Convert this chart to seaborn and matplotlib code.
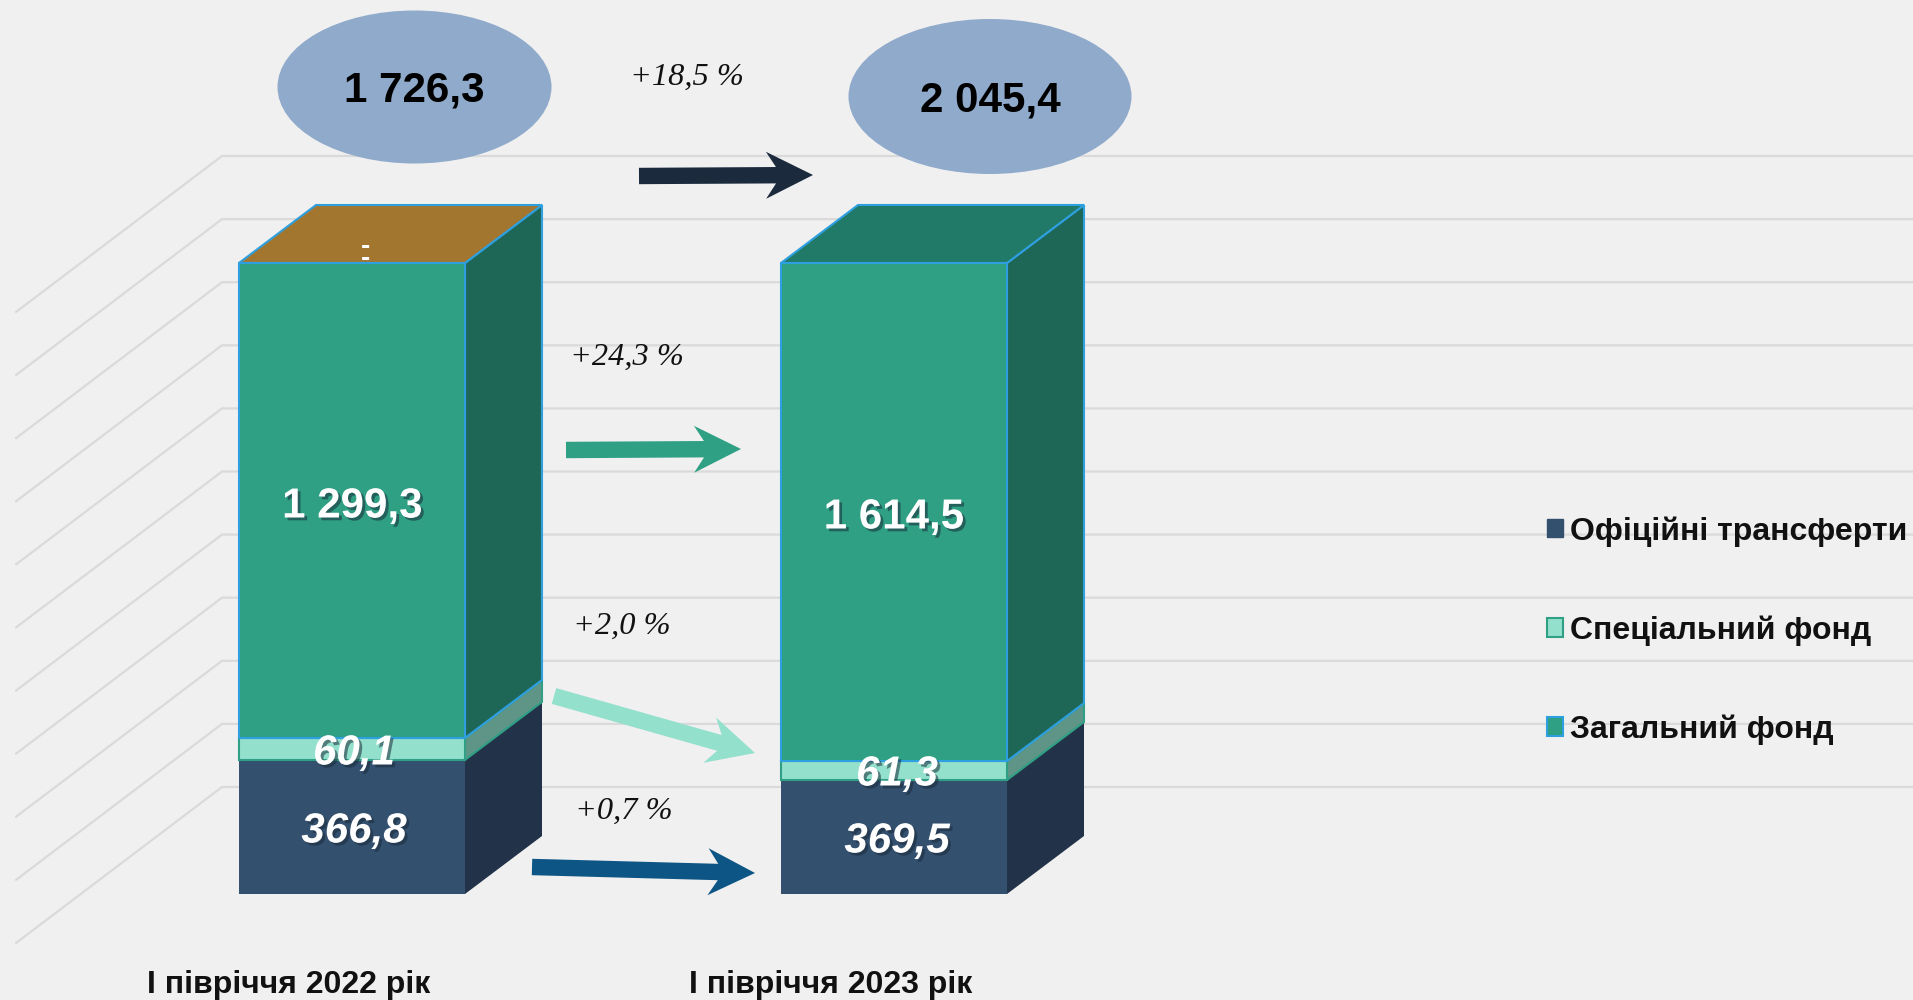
import numpy as np
import pandas as pd
import seaborn as sns
import matplotlib
matplotlib.use('Agg')
import matplotlib.pyplot as plt
import matplotlib.patheffects as pe
from matplotlib.patches import Ellipse, Patch, Polygon

# data
periods = ['І півріччя 2022 рік', 'І півріччя 2023 рік']
general_fund = [1299.3, 1614.5]
special_fund = [60.1, 61.3]
transfers = [366.8, 369.5]
transfers_top = [0, 0]
totals = [1726.3, 2045.4]
changes = ['+18,5 %', '+24,3 %', '+2,0 %', '+0,7 %']
legend_labels = ['Офіційні трансферти', 'Спеціальний фонд', 'Загальний фонд']
grid_ticks = [0.1 * i for i in range(11)]

BG = '#F0F0F0'
NAVY, NAVY_SIDE = '#34506F', '#223249'
MINT, MINT_SIDE, MINT_EDGE = '#93E0CC', '#5F9587', '#2F9F85'
GREEN, GREEN_SIDE, BLUE_EDGE = '#2FA084', '#1E6757', '#2E9FDF'
TOP_COLORS = ['#A37630', '#217A67']

sns.set_style('white')
plt.rcParams['font.family'] = ['Liberation Sans', 'DejaVu Sans']

fig = plt.figure(figsize=(19.13, 10), dpi=100, facecolor=BG)
ax = fig.add_axes([0, 0, 1, 1], facecolor=BG)

# 100 % stacked bars, each total fills the same height
tot = np.array(transfers) + np.array(special_fund) + np.array(general_fund) + np.array(transfers_top)
stack = [
    (np.array(transfers) / tot, NAVY, NAVY_SIDE, NAVY, 0),
    (np.array(special_fund) / tot, MINT, MINT_SIDE, MINT_EDGE, 1.5),
    (np.array(general_fund) / tot, GREEN, GREEN_SIDE, BLUE_EDGE, 1.5),
]

PX_X = 542  # pixels per category
PX_Y = 631.0  # pixels per 100 %
DX, DY = 77 / PX_X, 58 / PX_Y
BAR_W = 226 / PX_X
ZERO_Y = 894
FIRST_X = 352

bottom = np.zeros(2)
for share, color, side, edge, lw in stack:
    df = pd.DataFrame({'period': periods, 'share': share})
    sns.barplot(data=df, x='period', y='share', color=color, saturation=1, width=BAR_W,
                bottom=bottom, edgecolor=edge, linewidth=lw, ax=ax, zorder=3)
    for i in range(2):
        l, r = i - BAR_W / 2, i + BAR_W / 2
        b, t = bottom[i], bottom[i] + share[i]
        ax.add_patch(Polygon([(r, b), (r + DX, b + DY), (r + DX, t + DY), (r, t)],
                             facecolor=side, edgecolor=edge if lw else side, linewidth=lw, zorder=2.5))
    bottom = bottom + share

# top faces
for i in range(2):
    l, r = i - BAR_W / 2, i + BAR_W / 2
    ax.add_patch(Polygon([(l, 1), (l + DX, 1 + DY), (r + DX, 1 + DY), (r, 1)],
                         facecolor=TOP_COLORS[i], edgecolor=BLUE_EDGE, linewidth=1.5, zorder=2.6))

ax.set_xlim(-FIRST_X / PX_X, (1913 - FIRST_X) / PX_X)
ax.set_ylim((ZERO_Y - 1000) / PX_Y, ZERO_Y / PX_Y)

# back wall and side wall grid
wall_x0 = (222 - FIRST_X) / PX_X
wall_dx = -206 / PX_X
back_dy, front_dy = 107 / PX_Y, -49 / PX_Y
for g in grid_ticks:
    ax.plot([wall_x0 + wall_dx, wall_x0, ax.get_xlim()[1]],
            [g + front_dy, g + back_dy, g + back_dy],
            color='#DADADA', lw=1.6, zorder=1, solid_joinstyle='miter')
ax.axis('off')

# overlay in pixels for shapes and text
ann = fig.add_axes([0, 0, 1, 1], facecolor='none')
ann.set_xlim(0, 1913)
ann.set_ylim(1000, 0)
ann.axis('off')


def num(v):
    return f'{v:,.1f}'.replace(',', ' ').replace('.', ',')


def arrow(tail, tip, color):
    tail, tip = np.array(tail, float), np.array(tip, float)
    u = (tip - tail) / np.linalg.norm(tip - tail)
    n = np.array([-u[1], u[0]])
    pts = [tail + n * 8.2, tip - u * 37 + n * 8.2, tip - u * 47 + n * 23.5, tip,
           tip - u * 47 - n * 23.5, tip - u * 37 - n * 8.2, tail - n * 8.2]
    ann.add_patch(Polygon(pts, facecolor=color, edgecolor='none', zorder=5))


arrow((639, 176), (813, 175), '#1B2A3D')
arrow((566, 450), (741, 449), GREEN)
arrow((554, 696), (755, 753), MINT)
arrow((532, 867), (755, 873), '#0D5585')

ann.add_patch(Ellipse((414.5, 87), 274, 153, facecolor='#8FAACB', edgecolor='none'))
ann.add_patch(Ellipse((990, 96.5), 283, 155, facecolor='#8FAACB', edgecolor='none'))
ann.text(414.5, 91, num(totals[0]), fontsize=30.3, fontweight='bold', color='black', ha='center', va='center')
ann.text(990, 101, num(totals[1]), fontsize=30.3, fontweight='bold', color='black', ha='center', va='center')

shadow = [pe.SimplePatchShadow(offset=(2, -2), shadow_rgbFace='#1A2A3A', alpha=0.55), pe.Normal()]
value_pos = [
    (general_fund[0], 352.5, 506.5, 'normal'), (special_fund[0], 354, 753.5, 'italic'), (transfers[0], 354, 831.5, 'italic'),
    (general_fund[1], 894, 517.5, 'normal'), (special_fund[1], 897, 774.5, 'italic'), (transfers[1], 897, 841.5, 'italic'),
]
for v, x, y, style in value_pos:
    ann.text(x, y, num(v), fontsize=30.3, fontweight='bold', fontstyle=style, color='white',
             ha='center', va='center', path_effects=shadow, zorder=6)
ann.text(366, 252.5, '-\n-', fontsize=20, fontweight='bold', color='white', ha='center', va='center',
         linespacing=0.3, zorder=6)

change_pos = [(687, 77), (627, 357), (622, 626), (623.5, 811)]
for s, (x, y) in zip(changes, change_pos):
    ann.text(x, y, s, fontsize=23.3, fontstyle='italic', family='Liberation Serif', color='#111111',
             ha='center', va='center')

for s, x in zip(periods, [289, 831]):
    ann.text(x, 985, s, fontsize=23, fontweight='bold', color='#111111', ha='center', va='center')

handles = [Patch(facecolor=NAVY, edgecolor=NAVY),
           Patch(facecolor=MINT, edgecolor=MINT_EDGE, linewidth=1.5),
           Patch(facecolor=GREEN, edgecolor=BLUE_EDGE, linewidth=1.5)]
ann.legend(handles, legend_labels, loc='center left', bbox_to_anchor=(1547 / 1913, 1 - 630.5 / 1000),
           bbox_transform=fig.transFigure, frameon=False, prop={'size': 23, 'weight': 'bold'},
           labelcolor='#111111', handlelength=0.5, handleheight=0.5, handletextpad=0.22,
           labelspacing=2.15, borderpad=0, borderaxespad=0)

fig.savefig('out.png', dpi=100, facecolor=BG)
